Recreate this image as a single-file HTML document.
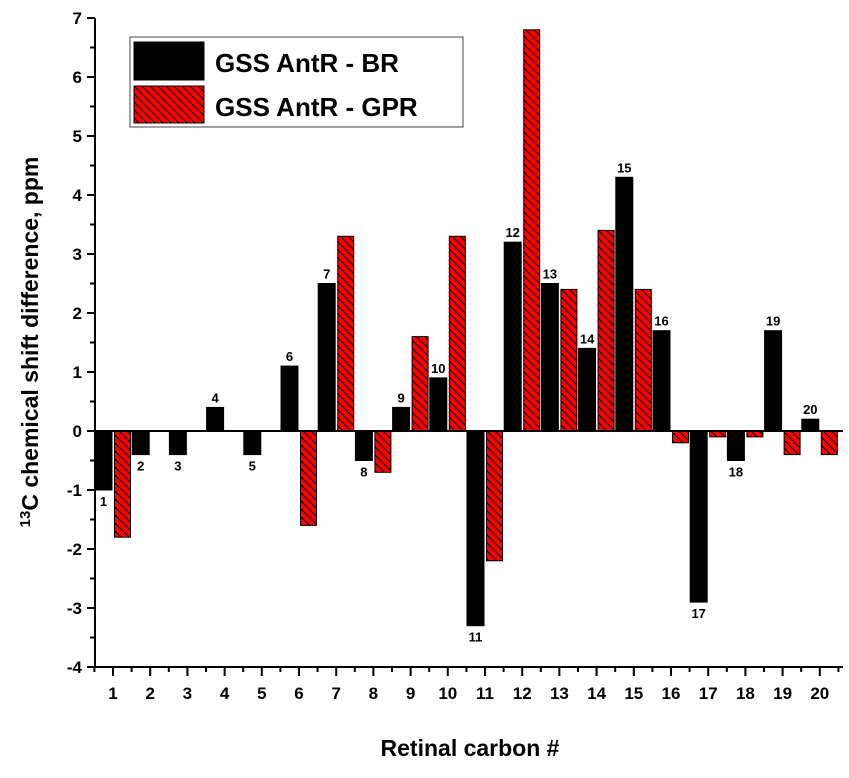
<!DOCTYPE html>
<html><head><meta charset="utf-8"><style>
body{margin:0;background:#fff}
svg text{font-family:"Liberation Sans",Arial,sans-serif;font-weight:bold}
</style></head><body>
<svg id="c" width="849" height="773" xmlns="http://www.w3.org/2000/svg">
<defs>
<pattern id="hatch" width="8" height="8" patternUnits="userSpaceOnUse">
<rect width="8" height="8" fill="#ff0000"/>
<path d="M-2,-2 L10,10 M-2,6 L2,10 M6,-2 L10,2" stroke="#000" stroke-width="1"/>
</pattern>
</defs>
<g id="plot"></g>
<g>
<rect x="130" y="37" width="333" height="90" fill="#fff" stroke="#444" stroke-width="1"/>
<rect x="134" y="42" width="70" height="38" fill="#000" stroke="#000"/>
<text x="215" y="72" font-size="26">GSS AntR - BR</text>
<rect x="134" y="86" width="70" height="37" fill="url(#hatch)" stroke="#000"/>
<text x="215" y="116" font-size="26">GSS AntR - GPR</text>
</g>
<text x="470" y="756" font-size="23" text-anchor="middle">Retinal carbon #</text>
<text transform="translate(38,342) rotate(-90)" font-size="23" text-anchor="middle"><tspan font-size="15" dy="-8">13</tspan><tspan dy="8">C chemical shift difference, ppm</tspan></text>
</svg>
<script>
const categories=[1,2,3,4,5,6,7,8,9,10,11,12,13,14,15,16,17,18,19,20];
const brValues=[-1,-0.4,-0.4,0.4,-0.4,1.1,2.5,-0.5,0.4,0.9,-3.3,3.2,2.5,1.4,4.3,1.7,-2.9,-0.5,1.7,0.2];
const gprValues=[-1.8,0,0,0,0,-1.6,3.3,-0.7,1.6,3.3,-2.2,6.8,2.4,3.4,2.4,-0.2,-0.1,-0.1,-0.4,-0.4];
const yTicks=[-4,-3,-2,-1,0,1,2,3,4,5,6,7];
const NS='http://www.w3.org/2000/svg';
const g=document.getElementById('plot');
const y=v=>431-v*59;
const x=i=>113+(i-1)*37.2;
function mk(t,a,p){const e=document.createElementNS(NS,t);for(const k in a)e.setAttribute(k,a[k]);(p||g).appendChild(e);return e;}
categories.forEach((c,i)=>{
 const cx=x(c);
 const vb=brValues[i];
 if(vb!==0){const r=mk('rect',{x:cx-18,y:Math.min(y(vb),y(0)),width:17,height:Math.abs(y(vb)-y(0)),fill:'#000',stroke:'#000'});
 
 
 const t=mk('text',{x:cx-9.5,y:vb>0?y(vb)-5:y(vb)+16,'font-size':13,'text-anchor':'middle'});t.textContent=c;
 
 }
 const vg=gprValues[i];
 if(vg!==0){const r=mk('rect',{x:cx+1.5,y:Math.min(y(vg),y(0)),width:16,height:Math.abs(y(vg)-y(0)),fill:'url(#hatch)',stroke:'#000'});
 
 }
});
// axes
const ax=mk('line',{x1:95,y1:18,x2:95,y2:667,stroke:'#000','stroke-width':2});


const bx=mk('line',{x1:94,y1:667,x2:843,y2:667,stroke:'#000','stroke-width':2});


const zl=mk('line',{x1:95,y1:y(0),x2:843,y2:y(0),stroke:'#000','stroke-width':2});


yTicks.forEach(v=>{
 mk('line',{x1:87,y1:y(v),x2:95,y2:y(v),stroke:'#000','stroke-width':2});
 if(v<7)mk('line',{x1:90,y1:y(v+0.5),x2:95,y2:y(v+0.5),stroke:'#000','stroke-width':2});
 const t=mk('text',{x:82,y:y(v)+6,'font-size':17,'text-anchor':'end'});t.textContent=v;
 
 
});
categories.forEach(c=>{
 mk('line',{x1:x(c),y1:667,x2:x(c),y2:676,stroke:'#000','stroke-width':2});
 mk('line',{x1:x(c)-18.6,y1:667,x2:x(c)-18.6,y2:672,stroke:'#000','stroke-width':2});
 const t=mk('text',{x:x(c),y:699,'font-size':17,'text-anchor':'middle'});t.textContent=c;
 
 
});
mk('line',{x1:x(20)+18.6,y1:667,x2:x(20)+18.6,y2:672,stroke:'#000','stroke-width':2});
</script>
</body></html>
